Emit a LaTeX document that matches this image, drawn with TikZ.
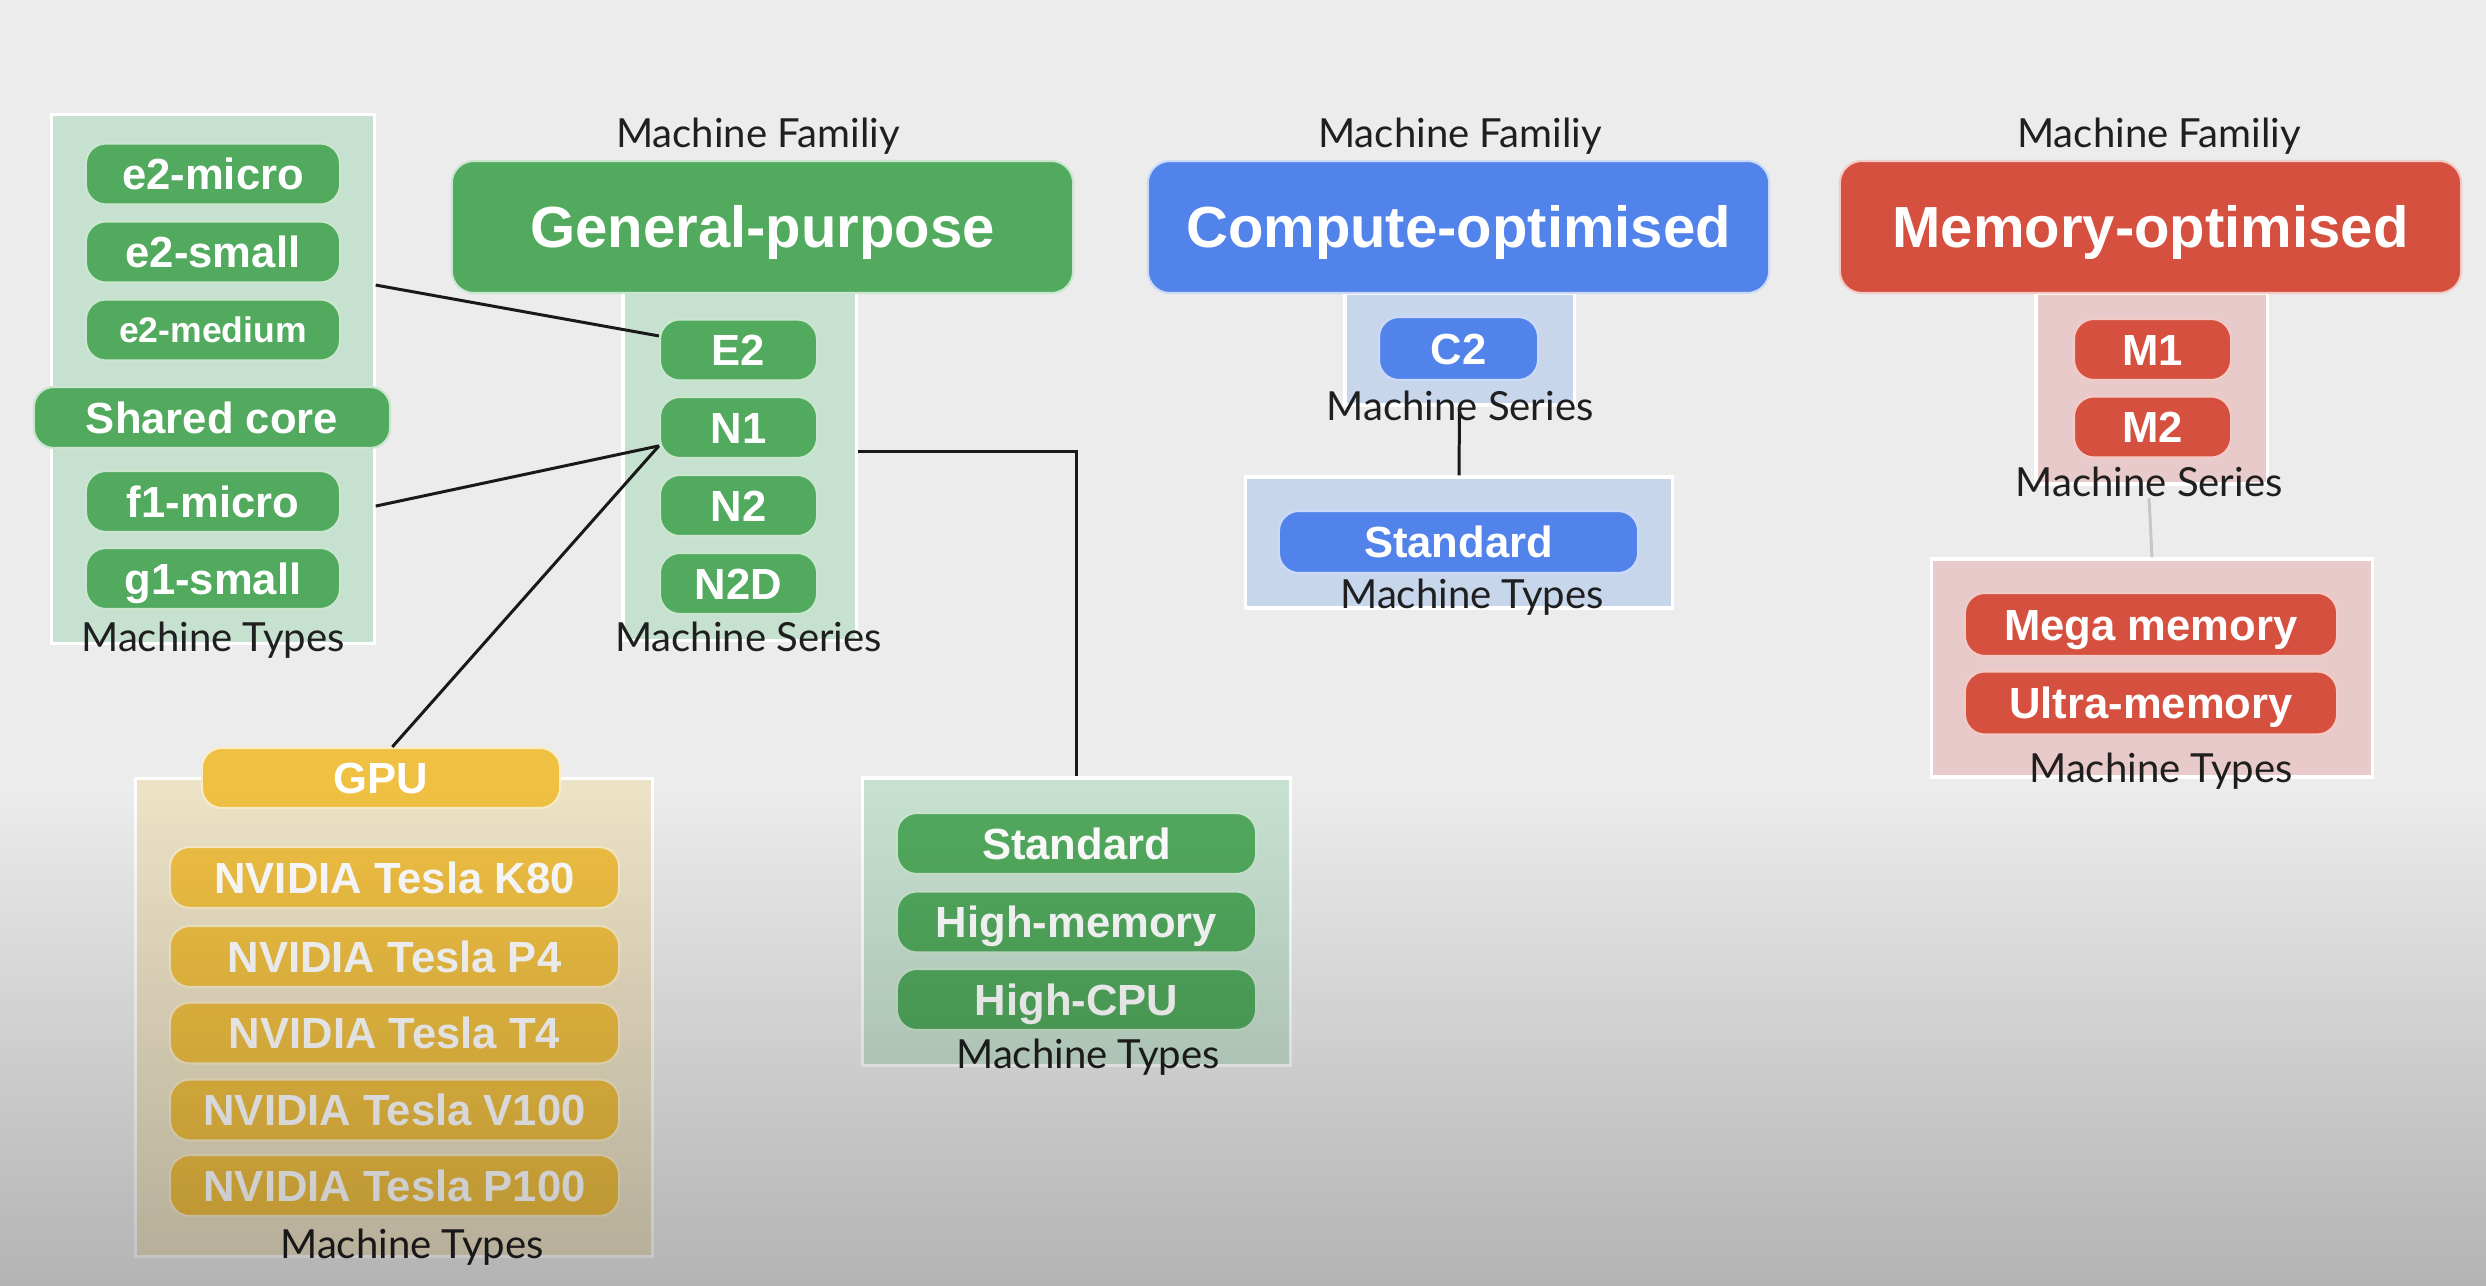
\documentclass[tikz,border=0pt]{standalone}
\usepackage{fontspec}
\setmainfont{Liberation Sans}
\newfontfamily\labelfont{Lato}
\usetikzlibrary{fadings}

\definecolor{bgray}{RGB}{236,236,236}
\definecolor{ggreen}{RGB}{82,170,94}
\definecolor{gblue}{RGB}{82,131,234}
\definecolor{gred}{RGB}{214,80,64}
\definecolor{gyellow}{RGB}{240,192,67}
\definecolor{pgreen}{RGB}{199,225,209}
\definecolor{pblue}{RGB}{200,214,236}
\definecolor{pred}{RGB}{232,202,202}
\definecolor{pyellow}{RGB}{236,226,198}

\tikzset{
  pill/.style={fill=#1, draw=white!70!#1, line width=0.6pt, rounded corners=0.2cm, text=white,
    inner sep=0pt, minimum height=0.61cm, text height=8.9pt, text depth=0pt,
    font=\bfseries\fontsize{12.4}{14}\selectfont},
  header/.style={pill=#1, rounded corners=0.22cm, minimum width=6.21cm, minimum height=1.32cm,
    text height=11.8pt, font=\bfseries\fontsize{16.5}{19}\selectfont},
  panel/.style={fill=#1, draw=white, line width=0.9pt, inner sep=0pt},
  tag/.style={font=\labelfont\fontsize{11.4}{13}\selectfont, text=black!88, anchor=base, inner sep=0pt},
  link/.style={line width=0.85pt, black!90}
}

\begin{document}
\begin{tikzpicture}[x=0.01cm, y=-0.01cm]
    \useasboundingbox (0,0) rectangle (2486,1286);
    \fill[bgray] (0,0) rectangle (2486,1286);

    % panels
    \node[panel=pgreen, minimum width=3.22cm, minimum height=5.28cm] (ltypes) at (213,379) {};
    \node[panel=pgreen, minimum width=2.33cm, minimum height=3.47cm] (gpser) at (739.5,466.5) {};
    \node[panel=pyellow, minimum width=5.16cm, minimum height=4.77cm] (gputypes) at (394,1017.5) {};
    \node[panel=pgreen, minimum width=4.27cm, minimum height=2.87cm] (gptypes) at (1076.5,921.5) {};
    \node[panel=pblue, minimum width=2.29cm, minimum height=1.12cm] (coser) at (1459.5,349) {};
    \node[panel=pblue, minimum width=4.26cm, minimum height=1.31cm] (cotypes) at (1459,542.5) {};
    \node[panel=pred, minimum width=2.31cm, minimum height=1.91cm] (moser) at (2151.5,388.5) {};
    \node[panel=pred, minimum width=4.40cm, minimum height=2.18cm] (motypes) at (2152,668) {};

    % families
    \node[header=ggreen] (gp) at (762.5,227) {General-purpose};
    \node[header=gblue] (co) at (1458.5,227) {Compute-optimised};
    \node[header=gred] (mo) at (2150.5,227) {Memory-optimised};

    % shared core types
    \node[pill=ggreen, minimum width=2.54cm] (e2micro) at (213,174) {e2-micro};
    \node[pill=ggreen, minimum width=2.54cm] (e2small) at (213,252) {e2-small};
    \node[pill=ggreen, minimum width=2.54cm, text height=7.2pt, font=\bfseries\fontsize{10.1}{12}\selectfont] (e2medium) at (213,330) {e2-medium};
    \node[pill=ggreen, minimum width=3.56cm] (shared) at (212,417.5) {Shared core};
    \node[pill=ggreen, minimum width=2.54cm] (f1micro) at (213,501.5) {f1-micro};
    \node[pill=ggreen, minimum width=2.54cm] (g1small) at (213,578.5) {g1-small};

    % series
    \node[pill=ggreen, minimum width=1.57cm] (E2) at (738.5,350) {E2};
    \node[pill=ggreen, minimum width=1.57cm] (N1) at (738.5,427.5) {N1};
    \node[pill=ggreen, minimum width=1.57cm] (N2) at (738.5,505.5) {N2};
    \node[pill=ggreen, minimum width=1.57cm] (N2D) at (738.5,583.5) {N2D};
    \node[pill=gblue, minimum width=1.59cm, minimum height=0.63cm] (C2) at (1458.5,348.5) {C2};
    \node[pill=gred, minimum width=1.57cm] (M1) at (2152.5,349.5) {M1};
    \node[pill=gred, minimum width=1.57cm] (M2) at (2152.5,427) {M2};

    % gpu types
    \node[pill=gyellow, minimum width=3.58cm, minimum height=0.6cm] (gpu) at (381,778) {GPU};
    \node[pill=gyellow, minimum width=4.49cm] (k80) at (394.5,877.5) {NVIDIA Tesla K80};
    \node[pill=gyellow, minimum width=4.49cm] (p4) at (394.5,956.5) {NVIDIA Tesla P4};
    \node[pill=gyellow, minimum width=4.49cm] (t4) at (394.5,1033) {NVIDIA Tesla T4};
    \node[pill=gyellow, minimum width=4.49cm] (v100) at (394.5,1110) {NVIDIA Tesla V100};
    \node[pill=gyellow, minimum width=4.49cm] (p100) at (394.5,1185.5) {NVIDIA Tesla P100};

    % other types
    \node[pill=ggreen, minimum width=3.59cm] (gpstd) at (1076.5,843.5) {Standard};
    \node[pill=ggreen, minimum width=3.59cm] (gphmem) at (1076.5,922) {High-memory};
    \node[pill=ggreen, minimum width=3.59cm] (gphcpu) at (1076.5,999.5) {High-CPU};
    \node[pill=gblue, minimum width=3.59cm, minimum height=0.62cm] (costd) at (1458.5,542) {Standard};
    \node[pill=gred, minimum width=3.72cm, minimum height=0.63cm] (mega) at (2151,624.5) {Mega memory};
    \node[pill=gred, minimum width=3.72cm, minimum height=0.63cm] (ultra) at (2151,703) {Ultra-memory};

    % links
    \draw[link] (ltypes.30) -- (E2.170);
    \draw[link] (ltypes.-38) -- (N1.193);
    \draw[link] (N1.193) -- (gpu.70);
    \draw[link] (gpser.7) -| (gptypes.north);
    \draw[link] (coser.south) -- (cotypes.north);

    % captions
    \node[tag] (gpfam) at (758,148) {Machine Familiy};
    \node[tag] (cofam) at (1460,148) {Machine Familiy};
    \node[tag] (mofam) at (2159,148) {Machine Familiy};
    \node[tag] (ltl) at (213,652) {Machine Types};
    \node[tag] (gpsl) at (748.5,652) {Machine Series};
    \node[tag] (gputl) at (412,1258) {Machine Types};
    \node[tag] (gptl) at (1088,1068) {Machine Types};
    \node[tag] (cosl) at (1460,421) {Machine Series};
    \node[tag] (cotl) at (1472,609) {Machine Types};
    \node[tag] (mosl) at (2149,497) {Machine Series};
    \node[tag] (motl) at (2161,782) {Machine Types};
    \draw[line width=0.85pt, black!22] (mosl.south) -- (motypes.north);

    % darker floor
    \fill[black, fill opacity=0.24, path fading=north] (0,790) rectangle (2486,1286);
\end{tikzpicture}
\end{document}
